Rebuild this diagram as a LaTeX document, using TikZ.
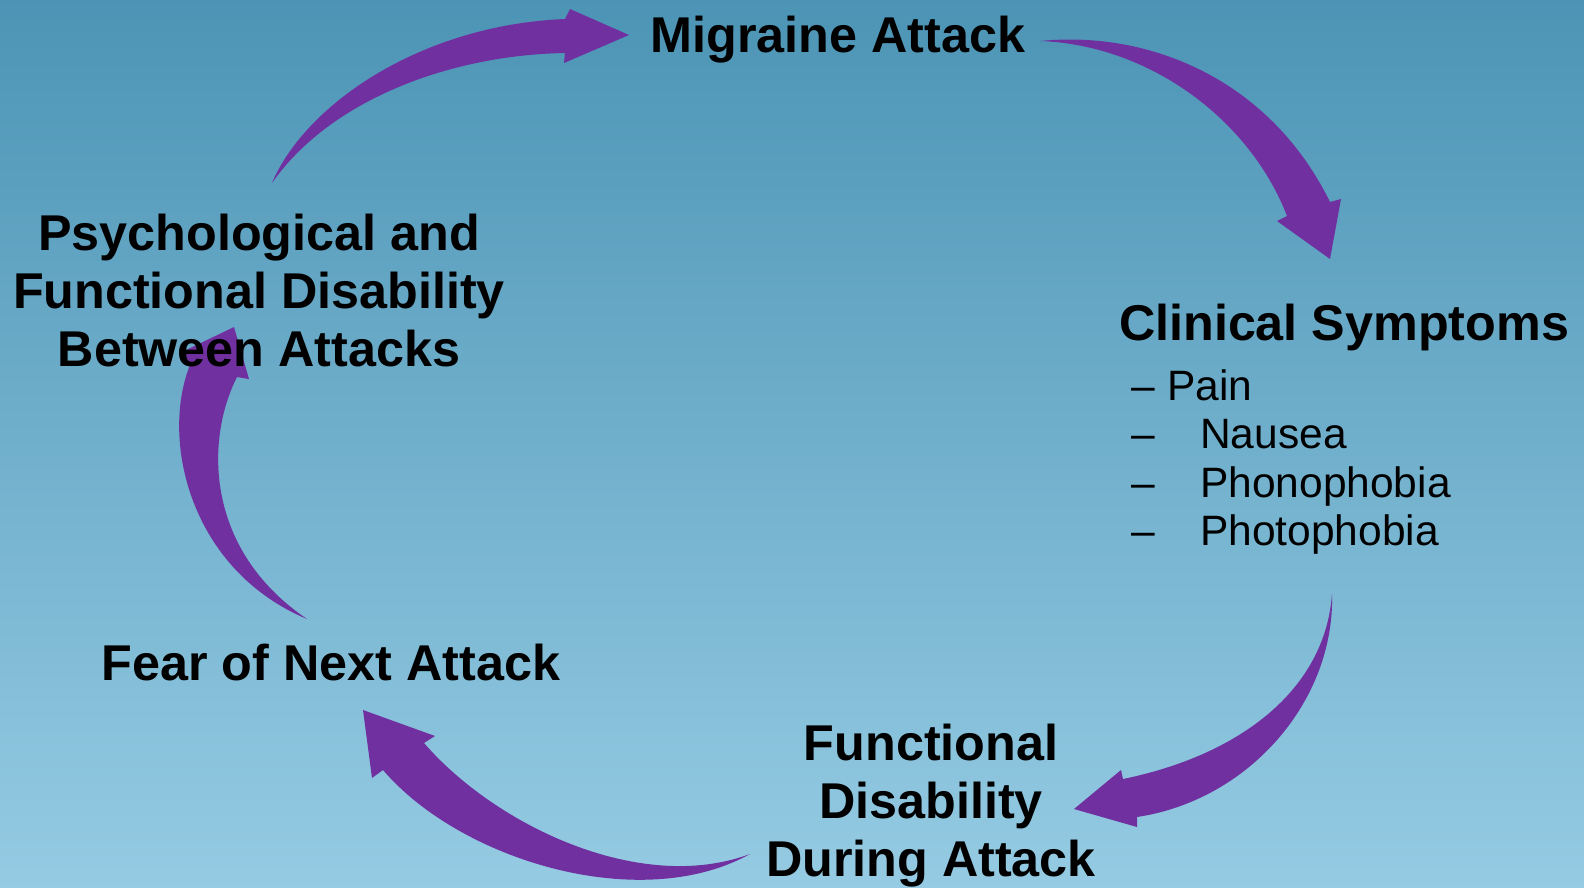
\documentclass[tikz,border=0pt]{standalone}
\usepackage{fontspec}
\setmainfont{Liberation Sans}
\definecolor{bgtop}{RGB}{76,148,181}
\definecolor{bgbot}{RGB}{149,203,227}
\definecolor{arrowpurple}{RGB}{112,48,160}
\begin{document}
\begin{tikzpicture}[x=1pt,y=-1pt,
  head/.style={font=\fontsize{50.3}{59}\selectfont\bfseries, inner sep=0pt, anchor=base},
  itemtxt/.style={font=\fontsize{42.5}{48}\selectfont, inner sep=0pt, anchor=base west},
  cyc/.style={fill=arrowpurple, draw=none}]
\shade[top color=bgtop, bottom color=bgbot] (0,0) rectangle (1584,887);
\useasboundingbox (0,0) rectangle (1584,887);

% curved tapered arrows
% Psychological -> Migraine
\path[cyc] (272,183) .. controls (305,105) and (420,25) .. (565,19) -- (570,9) -- (629,35) -- (564,63) -- (565,53)
  .. controls (450,55) and (330,100) .. (272,183) -- cycle;
% Migraine -> Clinical
\path[cyc] (1040,41) .. controls (1150,30) and (1270,80) .. (1330,202) -- (1341,199) -- (1330,259) -- (1277,221) -- (1287,216)
  .. controls (1250,120) and (1150,45) .. (1040,41) -- cycle;
% Clinical -> Functional
\path[cyc] (1332,594) .. controls (1335,700) and (1250,800) .. (1137,817) -- (1137,827) -- (1074,809) -- (1121,770) -- (1123,779)
  .. controls (1240,755) and (1325,690) .. (1332,594) -- cycle;
% Functional -> Fear
\path[cyc] (750,854) .. controls (640,915) and (460,860) .. (383,770) -- (372,778) -- (363,710) -- (435,736) -- (424,743)
  .. controls (495,825) and (640,895) .. (750,854) -- cycle;
% Fear -> Psychological
\path[cyc] (307,619) .. controls (190,570) and (160,440) .. (190,365) -- (182,352) -- (234,327) -- (249,379) -- (237,377)
  .. controls (205,440) and (205,550) .. (307,619) -- cycle;

% texts
\node[head] (migraine) at (838,52) {Migraine Attack};
\node[head] (clinical) at (1344,340) {Clinical Symptoms};
\node[itemtxt] (d1) at (1131,400) {–};
\node[itemtxt] (pain) at (1167,400) {Pain};
\node[itemtxt] (d2) at (1131,448) {–};
\node[itemtxt] (nausea) at (1200,448) {Nausea};
\node[itemtxt] (d3) at (1131,497) {–};
\node[itemtxt] (phono) at (1200,497) {Phonophobia};
\node[itemtxt] (d4) at (1131,545) {–};
\node[itemtxt] (photo) at (1200,545) {Photophobia};
\node[head] (func1) at (931,760) {Functional};
\node[head] (func2) at (931,818) {Disability};
\node[head] (func3) at (931,876) {During Attack};
\node[head] (fear) at (331,680) {Fear of Next Attack};
\node[head] (psy1) at (259,250) {Psychological and};
\node[head] (psy2) at (259,308) {Functional Disability};
\node[head] (psy3) at (259,366) {Between Attacks};
\end{tikzpicture}
\end{document}
